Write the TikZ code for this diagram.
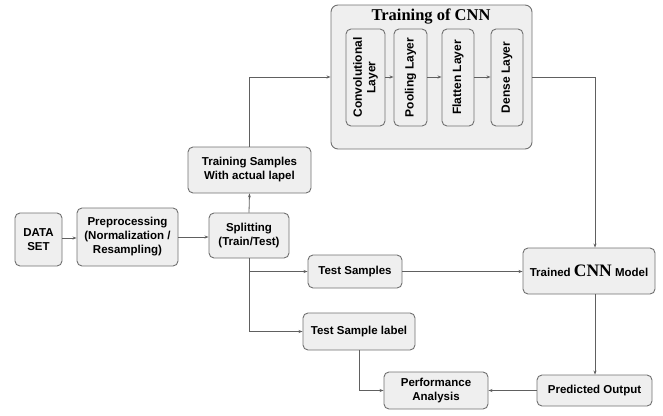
\documentclass[tikz,border=0pt]{standalone}
\usepackage{fontspec}
\setmainfont{Liberation Sans}
\newfontfamily\serifcnn{Liberation Serif}
\usetikzlibrary{arrows.meta}
\definecolor{boxfill}{HTML}{EFEFEF}
\definecolor{boxline}{HTML}{707070}
\definecolor{wire}{HTML}{606060}
\tikzset{
  box/.style={draw=boxline, fill=boxfill, rounded corners=5pt, line width=0.9pt,
    align=center, inner sep=1pt, font=\fontsize{11.5}{14}\selectfont\bfseries},
  layerbox/.style={box, rotate=90, font=\fontsize{12}{13.5}\selectfont\bfseries},
  arr/.style={draw=wire, line width=0.8pt, -{Stealth[length=4pt,width=3pt]}},
}
\begin{document}
\begin{tikzpicture}[x=1pt,y=-1pt]
\useasboundingbox (0,0) rectangle (663,415);
\node[box, minimum width=47pt, minimum height=53pt] (data) at (38.5,239.5) {DATA\\SET};
\node[box, minimum width=101pt, minimum height=58pt] (prep) at (127.5,237) {Preprocessing\\(Normalization /\\Resampling)};
\node[box, minimum width=80pt, minimum height=45pt] (split) at (249,235.5) {Splitting\\(Train/Test)};
\node[box, minimum width=123pt, minimum height=46pt] (train) at (249.5,170) {Training Samples\\With actual lapel};
\node[box, rounded corners=7pt, minimum width=201pt, minimum height=144pt] (cnn) at (431.5,77) {};
\node[font=\serifcnn\fontsize{16.5}{18}\selectfont\bfseries] (cnntitle) at (431,17) {Training of CNN};
\node[layerbox, minimum width=97pt, minimum height=39pt] (conv) at (365.5,77.5) {Convolutional\\Layer};
\node[layerbox, minimum width=97pt, minimum height=33pt] (pool) at (410.5,77.5) {Pooling Layer};
\node[layerbox, minimum width=97pt, minimum height=32pt] (flat) at (458,77.5) {Flatten Layer};
\node[layerbox, minimum width=97pt, minimum height=32pt] (dense) at (507,77.5) {Dense Layer};
\node[box, minimum width=132pt, minimum height=46pt] (model) at (589,271) {Trained {\serifcnn\fontsize{17.5}{18}\selectfont CNN} Model};
\node[box, minimum width=94pt, minimum height=33pt] (tests) at (355,271.5) {Test Samples};
\node[box, minimum width=112pt, minimum height=37pt] (testl) at (359,331.5) {Test Sample label};
\node[box, minimum width=104pt, minimum height=37pt] (perf) at (436,390.5) {Performance\\Analysis};
\node[box, minimum width=115pt, minimum height=31pt] (pred) at (594.5,390.5) {Predicted Output};
\coordinate (col) at (595,0);
\draw[arr] (data.east |- 0,238) -- (prep.west |- 0,238);
\draw[arr] (prep.east |- 0,237) -- (split.west |- 0,237);
\draw[arr] (split.north) -- (train.south);
\draw[arr] (train.north) |- (cnn.west);
\draw[arr] (conv.south |- 0,77) -- (pool.north |- 0,77);
\draw[arr] (pool.south |- 0,77) -- (flat.north |- 0,77);
\draw[arr] (flat.south |- 0,77) -- (dense.north |- 0,77);
\draw[arr] (cnn.east) -| (col |- model.north);
\draw[arr] (split.south) |- (testl.west);
\draw[arr] (split.south |- tests.west) -- (tests.west);
\draw[arr] (tests.east) -- (tests.east -| model.west);
\draw[arr] (col |- model.south) -- (col |- pred.north);
\draw[arr] (pred.west) -- (pred.west -| perf.east);
\draw[arr] (testl.south) |- (perf.west);
\end{tikzpicture}
\end{document}
